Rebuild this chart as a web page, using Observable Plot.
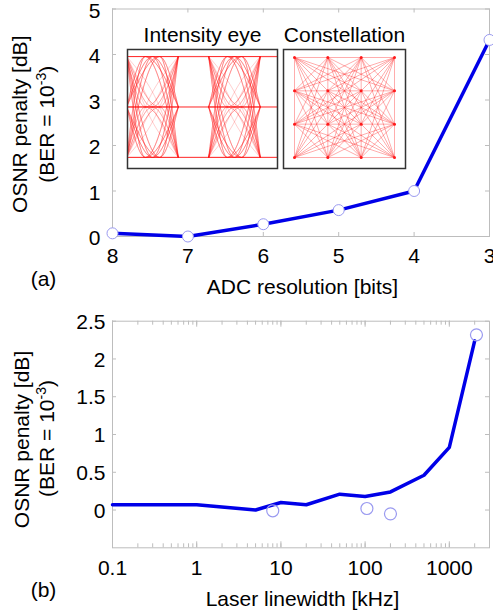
<!DOCTYPE html>
<html>
<head>
<meta charset="utf-8">
<script src="https://cdn.jsdelivr.net/npm/d3@7"></script>
<script src="https://cdn.jsdelivr.net/npm/@observablehq/plot@0.6"></script>
<style>
  html, body { margin: 0; padding: 0; background: white; }
  #wrap { position: relative; width: 493px; height: 615px; overflow: hidden; background: white; }
  #wrap svg { position: absolute; overflow: visible; }
</style>
</head>
<body>
<div id="wrap"></div>
<script>
// ---------- Panel (a): ADC resolution ----------
const adcBits = [8, 7, 6, 5, 4, 3];
const adcPenalty = [0.07, 0.0, 0.27, 0.58, 1.0, 4.32];
const adcTicks = [8, 7, 6, 5, 4, 3];
const penaltyTicksA = [0, 1, 2, 3, 4, 5];

// ---------- Panel (b): laser linewidth ----------
const lwLineKHz = [0.1, 1, 5, 10, 20, 50, 100, 200, 500, 1000, 2000];
const lwLinePenalty = [0.07, 0.07, 0.0, 0.10, 0.07, 0.21, 0.18, 0.24, 0.46, 0.83, 2.24];
const lwMeasKHz = [8, 105, 200, 2100];
const lwMeasPenalty = [-0.01, 0.02, -0.05, 2.32];
const lwTicks = [0.1, 1, 10, 100, 1000];
const penaltyTicksB = [0, 0.5, 1, 1.5, 2, 2.5];

// ---------- Inset: intensity eye (3 levels) ----------
const eyeLevels = [1, 0, -1];
const eyeMidFractions = [0.36, 0.5, 0.64];
const eyeTransitionStarts = [-0.01, 0.99];
const eyeTransitionWidth = 0.63;
const eyeEnd = 1.83;

// ---------- Inset: 16-QAM constellation ----------
const qamLevels = [-3, -1, 1, 3];

const blue = "#0000e8";
const lavender = "#9a9af0";
const gridColor = "#bdbdbd";
const red = "#ff1a1a";
const font = "'Liberation Sans', Arial, sans-serif";

const wrap = document.getElementById("wrap");

function supFix(svg) {
  svg.querySelectorAll("text").forEach(t => {
    if (t.textContent.includes("^-3")) {
      const [pre, post] = t.textContent.split("^-3");
      t.textContent = "";
      const ns = "http://www.w3.org/2000/svg";
      const a = document.createElementNS(ns, "tspan"); a.textContent = pre;
      const b = document.createElementNS(ns, "tspan"); b.textContent = "-3";
      b.setAttribute("dy", "-8"); b.setAttribute("font-size", "14");
      const c = document.createElementNS(ns, "tspan"); c.textContent = post;
      c.setAttribute("dy", "8");
      t.append(a, b, c);
    }
  });
}

function place(el, left, top) {
  el.style.left = left + "px";
  el.style.top = top + "px";
  wrap.appendChild(el);
}

// ----- Panel (a) -----
const adcData = adcBits.map((b, i) => ({bits: b, penalty: adcPenalty[i]}));
const fwA = 493 - 112 - 4, fhA = 300 - 8.5 - 64;
const plotA = Plot.plot({
  width: 493, height: 300,
  marginLeft: 112, marginRight: 4, marginTop: 8.5, marginBottom: 64,
  style: {fontFamily: font, fontSize: "21px", color: "black", background: "transparent", overflow: "visible"},
  x: {domain: [8, 3], label: null},
  y: {domain: [0, 5], label: null},
  marks: [
    Plot.frame({stroke: gridColor}),
    Plot.axisX({ticks: adcTicks, tickFormat: d => String(d), tickSize: 0, tickPadding: 12, label: null}),
    Plot.axisY({ticks: penaltyTicksA, tickFormat: d => String(d), tickSize: 0, tickPadding: 12, dy: 2, label: null}),
    Plot.tickX(adcTicks, {x: d => d, insetTop: fhA - 4, stroke: gridColor}),
    Plot.tickX(adcTicks, {x: d => d, insetBottom: fhA - 4, stroke: gridColor}),
    Plot.tickY(penaltyTicksA, {y: d => d, insetRight: fwA - 4, stroke: gridColor}),
    Plot.tickY(penaltyTicksA, {y: d => d, insetLeft: fwA - 4, stroke: gridColor}),
    Plot.line(adcData, {x: "bits", y: "penalty", stroke: blue, strokeWidth: 3.5}),
    Plot.dot(adcData, {x: "bits", y: "penalty", r: 5.5, fill: "white", stroke: lavender, strokeWidth: 1}),
    Plot.text(["ADC resolution [bits]"], {text: d => d, frameAnchor: "bottom", dx: 1.5, dy: 51, lineAnchor: "middle", textAnchor: "middle"}),
    Plot.text(["(a)"], {text: d => d, frameAnchor: "bottom-left", dx: -69, dy: 43, lineAnchor: "middle", textAnchor: "middle"}),
    Plot.text(["OSNR penalty [dB]"], {text: d => d, frameAnchor: "left", rotate: -90, dx: -92, dy: 1.5, lineAnchor: "middle", textAnchor: "middle"}),
    Plot.text(["(BER = 10^-3)"], {text: d => d, frameAnchor: "left", rotate: -90, dx: -65, dy: 1.5, lineAnchor: "middle", textAnchor: "middle"})
  ]
});
supFix(plotA);
place(plotA, 0, 0);

// ----- Panel (b) -----
const lwLine = lwLineKHz.map((k, i) => ({khz: k, penalty: lwLinePenalty[i]}));
const lwMeas = lwMeasKHz.map((k, i) => ({khz: k, penalty: lwMeasPenalty[i]}));
const fwB = 493 - 112 - 4, fhB = 315 - 20.7 - 67.7;
const minorTicksB = d3.scaleLog().domain([0.1, 3000]).ticks().filter(v => v < 2999);
const plotB = Plot.plot({
  width: 493, height: 315,
  marginLeft: 112, marginRight: 4, marginTop: 20.7, marginBottom: 67.7,
  style: {fontFamily: font, fontSize: "21px", color: "black", background: "transparent", overflow: "visible"},
  x: {type: "log", domain: [0.1, 3000], label: null},
  y: {domain: [-0.5, 2.5], label: null},
  marks: [
    Plot.frame({stroke: gridColor}),
    Plot.axisX({ticks: lwTicks, tickFormat: d => String(d), tickSize: 0, tickPadding: 12, label: null}),
    Plot.axisY({ticks: penaltyTicksB, tickFormat: d => String(d), tickSize: 0, tickPadding: 7, dy: 1, label: null}),
    Plot.tickX(minorTicksB, {x: d => d, insetTop: fhB - 4, stroke: gridColor}),
    Plot.tickX(minorTicksB, {x: d => d, insetBottom: fhB - 4, stroke: gridColor}),
    Plot.tickX(lwTicks, {x: d => d, insetTop: fhB - 6, stroke: gridColor}),
    Plot.tickX(lwTicks, {x: d => d, insetBottom: fhB - 6, stroke: gridColor}),
    Plot.tickY(penaltyTicksB, {y: d => d, insetRight: fwB - 4, stroke: gridColor}),
    Plot.tickY(penaltyTicksB, {y: d => d, insetLeft: fwB - 4, stroke: gridColor}),
    Plot.line(lwLine, {x: "khz", y: "penalty", stroke: blue, strokeWidth: 3.5}),
    Plot.dot(lwMeas, {x: "khz", y: "penalty", r: 6, fill: "none", stroke: lavender, strokeWidth: 1.2}),
    Plot.text(["Laser linewidth [kHz]"], {text: d => d, frameAnchor: "bottom", dx: 1.5, dy: 51, lineAnchor: "middle", textAnchor: "middle"}),
    Plot.text(["(b)"], {text: d => d, frameAnchor: "bottom-left", dx: -69, dy: 42, lineAnchor: "middle", textAnchor: "middle"}),
    Plot.text(["OSNR penalty [dB]"], {text: d => d, frameAnchor: "left", rotate: -90, dx: -90, dy: 5, lineAnchor: "middle", textAnchor: "middle"}),
    Plot.text(["(BER = 10^-3)"], {text: d => d, frameAnchor: "left", rotate: -90, dx: -65, dy: 4, lineAnchor: "middle", textAnchor: "middle"})
  ]
});
supFix(plotB);
place(plotB, 0, 300);

// ----- Inset: eye diagram -----
const eyeCurves = [];
let id = 0;
for (const s of eyeTransitionStarts) {
  for (const a of eyeLevels) for (const m of eyeLevels) for (const b of eyeLevels) {
    for (const f of eyeMidFractions) {
      eyeCurves.push({t: s, v: a, id});
      eyeCurves.push({t: s + f * eyeTransitionWidth, v: m, id});
      eyeCurves.push({t: s + eyeTransitionWidth, v: b, id});
      id++;
    }
  }
}
const eyePlateaus = [];
eyeLevels.forEach(L => {
  eyeTransitionStarts.forEach((s, i) => {
    const end = i + 1 < eyeTransitionStarts.length ? eyeTransitionStarts[i + 1] : eyeEnd;
    eyePlateaus.push({x1: s + eyeTransitionWidth, x2: end, y: L});
  });
});
const eyePlot = Plot.plot({
  width: 152, height: 150,
  marginLeft: 1, marginRight: 1, marginTop: 30, marginBottom: 1,
  style: {fontFamily: font, fontSize: "21px", color: "black", background: "transparent", overflow: "visible"},
  x: {domain: [0, eyeEnd], axis: null},
  y: {domain: [-1.22, 1.14], axis: null},
  marks: [
    Plot.frame({fill: "white"}),
    Plot.line(eyeCurves, {x: "t", y: "v", z: "id", curve: "monotone-x", stroke: red, strokeWidth: 0.6, strokeOpacity: 0.35, clip: true}),
    Plot.link(eyePlateaus, {x1: "x1", x2: "x2", y1: "y", y2: "y", stroke: red, strokeWidth: 1.2, strokeOpacity: 0.8, clip: true}),
    Plot.frame({stroke: "#333", strokeWidth: 1.5}),
    Plot.text(["Intensity eye"], {text: d => d, frameAnchor: "top", dy: -14, lineAnchor: "middle", textAnchor: "middle"})
  ]
});
place(eyePlot, 126, 19);

// ----- Inset: constellation -----
const qamPoints = [];
qamLevels.forEach(i => qamLevels.forEach(q => qamPoints.push({i, q})));
const gcd = (a, b) => b === 0 ? a : gcd(b, a % b);
const qamLinks = [];
for (let a = 0; a < qamPoints.length; a++) {
  for (let b = a + 1; b < qamPoints.length; b++) {
    const si = Math.abs(qamPoints[a].i - qamPoints[b].i) / 2;
    const sq = Math.abs(qamPoints[a].q - qamPoints[b].q) / 2;
    if (gcd(si, sq) !== 1) continue; // segment already covered by shorter collinear links
    qamLinks.push({x1: qamPoints[a].i, y1: qamPoints[a].q, x2: qamPoints[b].i, y2: qamPoints[b].q});
  }
}
const conPlot = Plot.plot({
  width: 124, height: 150,
  marginLeft: 1, marginRight: 1, marginTop: 30, marginBottom: 1,
  style: {fontFamily: font, fontSize: "21px", color: "black", background: "transparent", overflow: "visible"},
  x: {domain: [-3.66, 3.66], axis: null},
  y: {domain: [-3.66, 3.48], axis: null},
  marks: [
    Plot.frame({fill: "white"}),
    Plot.link(qamLinks, {x1: "x1", y1: "y1", x2: "x2", y2: "y2", stroke: red, strokeWidth: 0.6, strokeOpacity: 0.6}),
    Plot.dot(qamPoints, {x: "i", y: "q", r: 1.5, fill: red}),
    Plot.frame({stroke: "#333", strokeWidth: 1.5}),
    Plot.text(["Constellation"], {text: d => d, frameAnchor: "top", dy: -14, lineAnchor: "middle", textAnchor: "middle"})
  ]
});
place(conPlot, 282, 19);
</script>
</body>
</html>
